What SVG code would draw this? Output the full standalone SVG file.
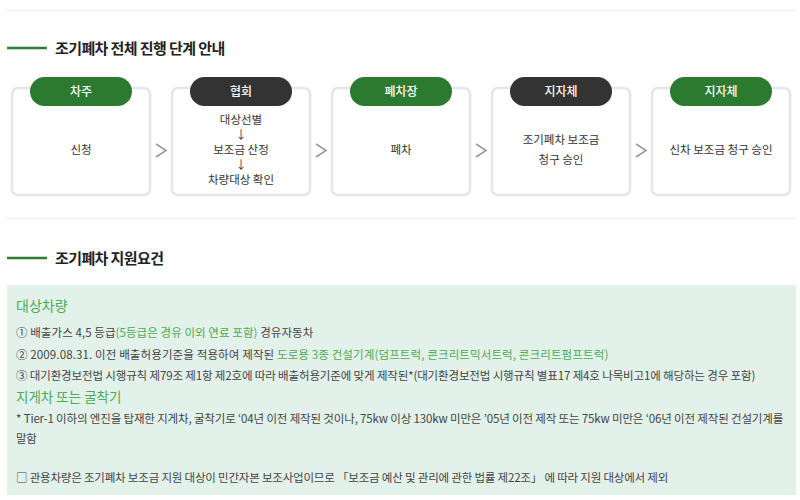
<svg xmlns="http://www.w3.org/2000/svg" width="800" height="500" viewBox="0 0 800 500">
<style>
text{font-family:"Noto Sans CJK KR","Noto Sans",sans-serif;}
.sep{stroke:#eeeeee;stroke-width:1.5;}
.tline{stroke:#2e7d32;stroke-width:2.5;}
.title{font-size:15px;font-weight:700;fill:#222;letter-spacing:-0.6px;}
.box{fill:#fff;stroke:#e6e6e6;stroke-width:2.5;}
.pillg{fill:#2b7a30;}
.pilld{fill:#333333;}
.ptxt{font-size:12px;fill:#fff;text-anchor:middle;font-weight:500;}
.btxt{font-size:11.5px;fill:#333;text-anchor:middle;}
.chev{fill:none;stroke:#9a9a9a;stroke-width:1.6;}
.panel{fill:#e3f1eb;}
.ptitle{font-size:14px;fill:#4caa50;}
.ln{font-size:11.5px;fill:#444;letter-spacing:-0.3px;}
.g{fill:#4caa50;}
</style>
<line class="sep" x1="7" y1="10.5" x2="795" y2="10.5"/>
<line class="sep" x1="7" y1="218.5" x2="795" y2="218.5"/>
<g id="heading1">
<line class="tline" x1="7" y1="48" x2="47" y2="48"/>
<text class="title" x="55" y="53.5">조기폐차 전체 진행 단계 안내</text>
</g>
<g id="step1">
<rect class="box" x="12" y="88" width="138" height="107" rx="6"/>
<rect class="pillg" x="30" y="77" width="102" height="29" rx="14.5"/>
<text class="ptxt" x="81" y="96">차주</text>
<text class="btxt" x="81" y="154">신청</text>
</g>
<g id="step2">
<rect class="box" x="172" y="88" width="138" height="107" rx="6"/>
<rect class="pilld" x="190" y="77" width="102" height="29" rx="14.5"/>
<text class="ptxt" x="241" y="96">협회</text>
<text class="btxt" x="241" y="124">대상선별</text>
<text class="btxt" x="241" y="139">↓</text>
<text class="btxt" x="241" y="154">보조금 산정</text>
<text class="btxt" x="241" y="169">↓</text>
<text class="btxt" x="241" y="184">차량대상 확인</text>
</g>
<g id="step3">
<rect class="box" x="332" y="88" width="138" height="107" rx="6"/>
<rect class="pillg" x="350" y="77" width="102" height="29" rx="14.5"/>
<text class="ptxt" x="401" y="96">폐차장</text>
<text class="btxt" x="401" y="154">폐차</text>
</g>
<g id="step4">
<rect class="box" x="492" y="88" width="138" height="107" rx="6"/>
<rect class="pilld" x="510" y="77" width="102" height="29" rx="14.5"/>
<text class="ptxt" x="561" y="96">지자체</text>
<text class="btxt" x="561" y="144">조기폐차 보조금</text>
<text class="btxt" x="561" y="164">청구 승인</text>
</g>
<g id="step5">
<rect class="box" x="652" y="88" width="138" height="107" rx="6"/>
<rect class="pillg" x="670" y="77" width="102" height="29" rx="14.5"/>
<text class="ptxt" x="721" y="96">지자체</text>
<text class="btxt" x="721" y="154">신차 보조금 청구 승인</text>
</g>
<g id="connectors">
<polyline class="chev" points="156,144 166,150.5 156,157"/>
<polyline class="chev" points="316,144 326,150.5 316,157"/>
<polyline class="chev" points="476,144 486,150.5 476,157"/>
<polyline class="chev" points="636,144 646,150.5 636,157"/>
</g>
<g id="heading2">
<line class="tline" x1="7" y1="258" x2="47" y2="258"/>
<text class="title" x="55" y="263.5">조기폐차 지원요건</text>
</g>
<g id="requirements">
<rect class="panel" x="7" y="285" width="789" height="210"/>
<text class="ptitle" x="16" y="311">대상차량</text>
<text class="ln" x="16" y="337" textLength="297" lengthAdjust="spacing">① 배출가스 4,5 등급<tspan class="g">(5등급은 경유 이외 연료 포함)</tspan> 경유자동차</text>
<text class="ln" x="16" y="359" textLength="592" lengthAdjust="spacing">② 2009.08.31. 이전 배출허용기준을 적용하여 제작된 <tspan class="g">도로용 3종 건설기계(덤프트럭, 콘크리트믹서트럭, 콘크리트펌프트럭)</tspan></text>
<text class="ln" x="16" y="380" textLength="739" lengthAdjust="spacing">③ 대기환경보전법 시행규칙 제79조 제1항 제2호에 따라 배출허용기준에 맞게 제작된*(대기환경보전법 시행규칙 별표17 제4호 나목비고1에 해당하는 경우 포함)</text>
<text class="ptitle" x="16" y="402" style="font-size:13.5px">지게차 또는 굴착기</text>
<text class="ln" x="16" y="423" textLength="767" lengthAdjust="spacing">* Tier-1 이하의 엔진을 탑재한 지게차, 굴착기로 ‘04년 이전 제작된 것이나, 75kw 이상 130kw 미만은 ’05년 이전 제작 또는 75kw 미만은 ‘06년 이전 제작된 건설기계를</text>
<text class="ln" x="16" y="443">말함</text>
<text class="ln" x="16" y="482" textLength="652" lengthAdjust="spacing">□ 관용차량은 조기폐차 보조금 지원 대상이 민간자본 보조사업이므로 「보조금 예산 및 관리에 관한 법률 제22조」 에 따라 지원 대상에서 제외</text>
</g>
</svg>
